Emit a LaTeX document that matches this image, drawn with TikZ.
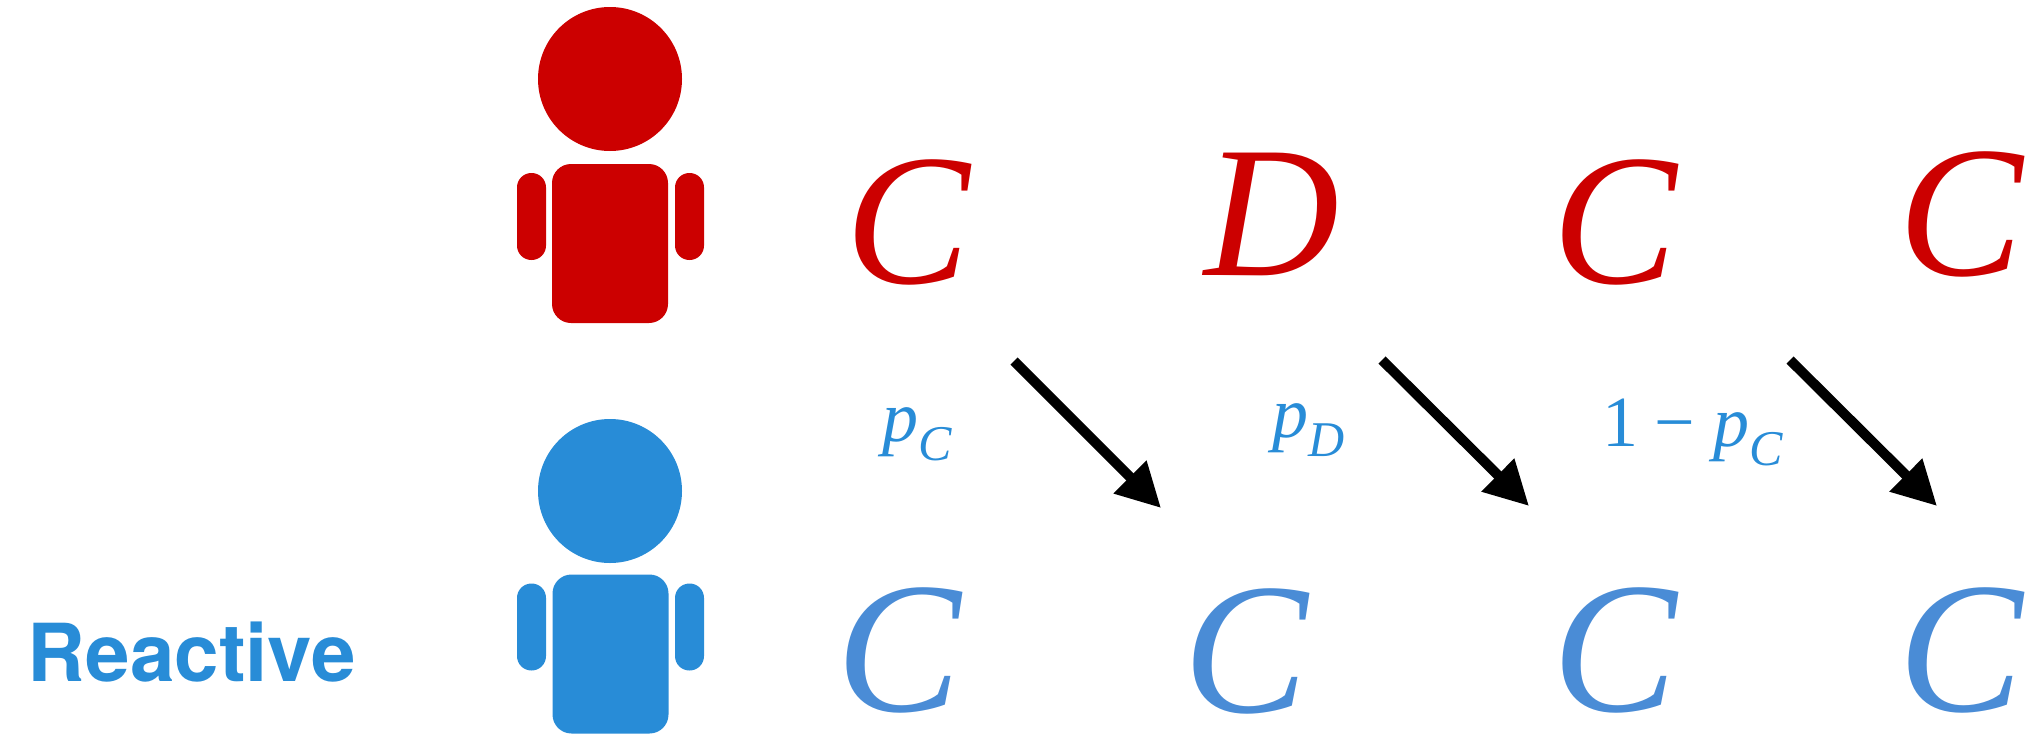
\documentclass[tikz,border=0pt]{standalone}
\usepackage{fontspec}
\setmainfont{Liberation Serif}
\newfontfamily\labelfont{TeX Gyre Heros}
\usetikzlibrary{arrows.meta}
\definecolor{redplayer}{HTML}{CC0000}
\definecolor{blueplayer}{HTML}{288CD7}
\definecolor{bluemove}{HTML}{4A8CD6}
\newcommand{\psub}[1]{\textit{p}\raisebox{-4.9pt}{\fontsize{12.5}{12.5}\selectfont\textit{#1}}}
\tikzset{
  head/.style={circle,minimum size=36pt,inner sep=0pt},
  torso/.style={rectangle,rounded corners=4.75pt,minimum width=29pt,minimum height=39.75pt,inner sep=0pt},
  limb/.style={rectangle,rounded corners=3.6pt,minimum width=7.25pt,minimum height=21.75pt,inner sep=0pt},
  move/.style={anchor=base west,inner sep=0pt,font=\fontsize{46.75}{46.75}\selectfont\itshape},
  prob/.style={anchor=base west,inner sep=0pt,text=blueplayer,font=\fontsize{18}{18}\selectfont},
  round/.style={-{Triangle[length=11pt,width=11pt]},line width=2.5pt,black}
}
\begin{document}
\begin{tikzpicture}[x=.25pt,y=-.25pt]
\useasboundingbox (0,0) rectangle (2034,749);
% red player
\node[head,fill=redplayer] (red-head) at (610,79) {};
\node[torso,fill=redplayer] (red-torso) at (610,243.5) {};
\node[limb,fill=redplayer] (red-arm-l) at (531.5,216.5) {};
\node[limb,fill=redplayer] (red-arm-r) at (689.5,216.5) {};
% blue player
\node[head,fill=blueplayer] (blue-head) at (610,491) {};
\node[torso,fill=blueplayer] (blue-torso) at (610.5,654) {};
\node[limb,fill=blueplayer] (blue-arm-l) at (531.5,627) {};
\node[limb,fill=blueplayer] (blue-arm-r) at (689.5,627) {};
\node[anchor=base west,inner sep=0pt,text=blueplayer,font=\labelfont\bfseries\fontsize{20}{20}\selectfont] (reactive) at (27,681) {Reactive};
% moves
\node[move,text=redplayer] (red-a) at (845,283) {C};
\node[move,text=redplayer] (red-b) at (1204,275) {D};
\node[move,text=redplayer] (red-c) at (1552,283) {C};
\node[move,text=redplayer] (red-d) at (1898,275) {C};
\node[move,text=bluemove] (blue-a) at (836,711) {C};
\node[move,text=bluemove] (blue-b) at (1183,712) {C};
\node[move,text=bluemove] (blue-c) at (1552,711) {C};
\node[move,text=bluemove] (blue-d) at (1898,711) {C};
% probabilities
\node[prob] (prob-a) at (882,441) {\psub{C}};
\node[prob] (prob-b) at (1272,437) {\psub{D}};
\node[prob] (prob-c) at (1602,446) {1\hspace{4pt}\char"2212\hspace{4.5pt}\psub{C}};
% arrows
\coordinate (start-a) at (1014,361);
\coordinate (tip-a) at (1161,508);
\coordinate (start-b) at (1382,360);
\coordinate (tip-b) at (1529,506);
\coordinate (start-c) at (1790,360);
\coordinate (tip-c) at (1937,506);
\draw[round] (start-a) -- (tip-a);
\draw[round] (start-b) -- (tip-b);
\draw[round] (start-c) -- (tip-c);
\end{tikzpicture}
\end{document}
